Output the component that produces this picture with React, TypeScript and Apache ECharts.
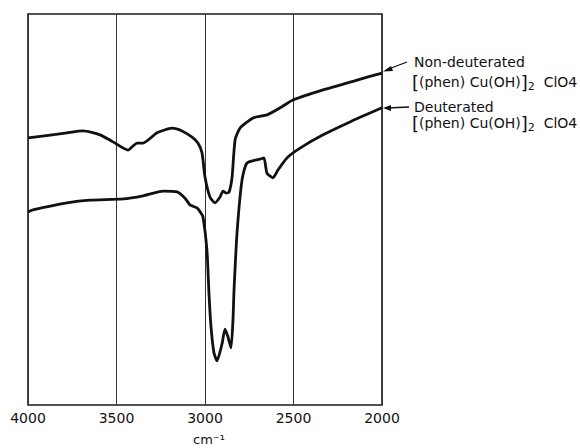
import React, { useEffect, useRef } from "react";
import * as echarts from "echarts";

// Non-deuterated [(phen)Cu(OH)]2 ClO4 spectrum (wavenumber cm-1, relative transmittance)
const nonDeutWavenumbers = [4000, 3780, 3689, 3593, 3520, 3435, 3384, 3350, 3271, 3186, 3130, 3073, 3040, 3017, 3000, 2972, 2944, 2915, 2898, 2881, 2864, 2847, 2830, 2802, 2729, 2650, 2576, 2503, 2333, 2141, 2000];
const nonDeutValues = [68.3, 69.6, 70.1, 69.1, 67.3, 65.2, 67.0, 67.0, 69.6, 70.8, 70.1, 68.5, 67.0, 64.5, 58.3, 53.2, 51.7, 53.2, 54.7, 54.2, 54.5, 58.3, 67.8, 70.8, 73.4, 74.2, 76.0, 78.0, 80.6, 83.1, 84.9];

// Deuterated spectrum
const deutWavenumbers = [4000, 3972, 3780, 3650, 3463, 3350, 3237, 3158, 3113, 3085, 3045, 3023, 3011, 2989, 2977, 2966, 2950, 2932, 2904, 2887, 2870, 2853, 2842, 2836, 2819, 2791, 2763, 2689, 2667, 2650, 2616, 2588, 2537, 2463, 2333, 2181, 2000];
const deutValues = [49.4, 49.9, 51.7, 52.4, 52.7, 53.5, 54.7, 54.5, 52.9, 51.2, 50.4, 49.1, 48.1, 39.6, 28.0, 20.0, 13.5, 11.3, 15.6, 19.4, 17.4, 14.6, 21.7, 29.4, 44.0, 57.5, 61.9, 62.9, 63.2, 59.3, 58.1, 60.1, 63.2, 65.7, 69.1, 72.4, 76.0];

const xTicks = [4000, 3500, 3000, 2500, 2000];
const seriesNames = ["Non-deuterated", "Deuterated"];
const formulaText = "{b|[}(phen) Cu(OH){b|]}{sub|2}  ClO4";

const FONT = "DejaVu Sans";

export default function App() {
  const ref = useRef<HTMLDivElement>(null);
  useEffect(() => {
    if (!ref.current) return;
    const chart = echarts.init(ref.current, undefined, { renderer: "svg" });
    const richStyle = {
      b: { fontSize: 18, fontFamily: FONT, color: "#111" },
      sub: { fontSize: 11, fontFamily: FONT, color: "#111", padding: [8, 0, 0, 0] },
    };
    chart.setOption({
      animation: false,
      backgroundColor: "#fff",
      grid: {
        left: 28,
        right: 198,
        top: 14,
        bottom: 43,
        show: true,
        borderColor: "#1a1a1a",
        borderWidth: 1.6,
        backgroundColor: "transparent",
        containLabel: false,
        outerBoundsMode: "none",
      },
      xAxis: {
        type: "value",
        min: 2000,
        max: 4000,
        interval: 500,
        inverse: true,
        name: "cm⁻¹",
        nameLocation: "middle",
        nameGap: 28,
        nameTextStyle: { fontFamily: FONT, fontSize: 13, color: "#111", padding: [0, 0, 0, 8] },
        axisLine: { show: false },
        axisTick: { show: false },
        axisLabel: {
          margin: 6,
          fontFamily: FONT,
          fontSize: 14,
          color: "#111",
          formatter: (v: number) => (xTicks.includes(v) ? String(v) : ""),
        },
        splitLine: { show: true, lineStyle: { color: "#333", width: 1 } },
      },
      yAxis: {
        type: "value",
        min: 0,
        max: 100,
        show: false,
        splitLine: { show: false },
      },
      series: [
        {
          name: seriesNames[0],
          type: "line",
          data: nonDeutWavenumbers.map((w, i) => [w, nonDeutValues[i]]),
          showSymbol: false,
          smooth: 0.2,
          lineStyle: { color: "#111", width: 2.8 },
        },
        {
          name: seriesNames[1],
          type: "line",
          data: deutWavenumbers.map((w, i) => [w, deutValues[i]]),
          showSymbol: false,
          smooth: 0.2,
          lineStyle: { color: "#111", width: 2.8 },
        },
      ],
      graphic: [
        {
          type: "line",
          shape: { x1: 407, y1: 62, x2: 386, y2: 70 },
          style: { stroke: "#111", lineWidth: 1.3 },
        },
        {
          type: "polygon",
          shape: { points: [[383, 71.5], [391, 66], [393, 71]] },
          style: { fill: "#111" },
        },
        {
          type: "line",
          shape: { x1: 409, y1: 107, x2: 387, y2: 108 },
          style: { stroke: "#111", lineWidth: 1.3 },
        },
        {
          type: "polygon",
          shape: { points: [[383, 108], [391, 105], [391, 111]] },
          style: { fill: "#111" },
        },
        {
          type: "text",
          x: 414,
          y: 62,
          style: { text: seriesNames[0], fontFamily: FONT, fontSize: 14, fill: "#111", verticalAlign: "middle" },
        },
        {
          type: "text",
          x: 412,
          y: 82,
          style: { text: formulaText, rich: richStyle, fontFamily: FONT, fontSize: 14, fill: "#111", verticalAlign: "middle" },
        },
        {
          type: "text",
          x: 414,
          y: 107,
          style: { text: seriesNames[1], fontFamily: FONT, fontSize: 14, fill: "#111", verticalAlign: "middle" },
        },
        {
          type: "text",
          x: 412,
          y: 123,
          style: { text: formulaText, rich: richStyle, fontFamily: FONT, fontSize: 14, fill: "#111", verticalAlign: "middle" },
        },
      ],
    });
    return () => chart.dispose();
  }, []);
  return <div ref={ref} style={{ width: 580, height: 448, position: "absolute", left: 0, top: 0 }} />;
}
